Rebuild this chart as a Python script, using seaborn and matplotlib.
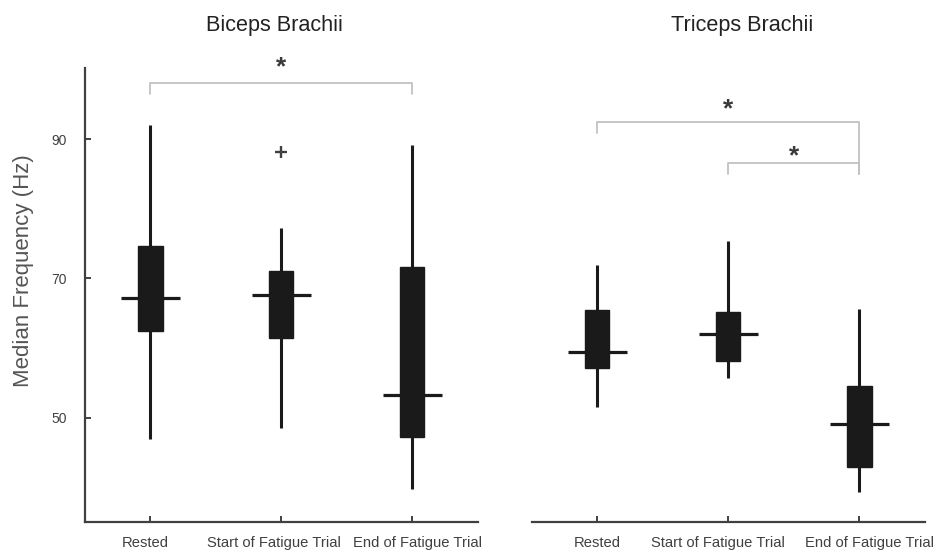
import matplotlib
matplotlib.use("Agg")
import matplotlib.pyplot as plt
import matplotlib.transforms as mtransforms
import seaborn as sns
import pandas as pd

# Conditions shown on each panel's x axis
conditions = ["Rested", "Start of Fatigue Trial", "End of Fatigue Trial"]

# Biceps brachii median frequency summaries (Hz)
biceps_whislo = [46.9, 48.5, 39.8]
biceps_q1 = [62.5, 61.4, 47.3]
biceps_med = [67.2, 67.6, 53.3]
biceps_q3 = [74.7, 71.1, 71.7]
biceps_whishi = [92.0, 77.3, 89.1]
biceps_outlier_cond = ["Start of Fatigue Trial"]
biceps_outlier_val = [88.2]

# Triceps brachii median frequency summaries (Hz)
triceps_whislo = [51.5, 55.7, 39.3]
triceps_q1 = [57.1, 58.1, 42.9]
triceps_med = [59.4, 62.0, 49.1]
triceps_q3 = [65.4, 65.2, 54.6]
triceps_whishi = [71.9, 75.3, 65.6]

# Significance brackets: (from, to, bar height, left drop, right drop, star height)
biceps_sig = [(0, 2, 98.0, 96.4, 96.4, 100.35)]
triceps_sig = [(0, 2, 92.5, 90.8, 85.0, 94.3),
               (1, 2, 86.56, 85.0, 85.0, 87.5)]

yticks = [50, 70, 90]
ylim = (35.0, 100.2)

sns.set_theme(style="ticks")
plt.rcParams["font.family"] = ["Liberation Sans", "DejaVu Sans"]

INK = "#1a1a1a"
AXIS = "#404040"
BRACKET = "#c2c2c2"

fig = plt.figure(figsize=(9.35, 5.52), dpi=100)
fig.patch.set_facecolor("white")
ax_l = fig.add_axes([85 / 935, 29.7 / 552, 392.7 / 935, 454.3 / 552])
ax_r = fig.add_axes([531.7 / 935, 29.7 / 552, 393.3 / 935, 454.3 / 552])


def draw_panel(ax, whislo, q1, med, q3, whishi, label_shift_pt):
    stats = []
    for i, name in enumerate(conditions):
        stats.append(dict(label=name, whislo=whislo[i], q1=q1[i], med=med[i],
                          q3=q3[i], whishi=whishi[i], fliers=[]))
    pos = list(range(len(conditions)))
    ax.bxp(stats, positions=pos, widths=0.185, patch_artist=True,
           showcaps=False, showfliers=False,
           boxprops=dict(facecolor=INK, edgecolor=INK, linewidth=1.0),
           whiskerprops=dict(color=INK, linewidth=2.2, solid_capstyle="butt"),
           medianprops=dict(color=INK, linewidth=0))
    # Median bars extend past the box on both sides
    ax.hlines(med, [p - 0.225 for p in pos], [p + 0.225 for p in pos],
              colors=INK, linewidth=2.3, zorder=4)
    ax.set_xlim(-0.5, 2.5)
    ax.set_ylim(*ylim)
    ax.set_xticks(pos)
    ax.set_xticklabels(conditions, fontsize=10.6, color=AXIS)
    ax.tick_params(axis="x", direction="in", length=4.5, width=1.4,
                   color=AXIS, pad=10)
    ax.set_xlabel("")
    # spread the long labels apart so neighbours do not touch
    for lab, dx in zip(ax.get_xticklabels(), label_shift_pt):
        offset = mtransforms.ScaledTranslation(dx / 72, 0, fig.dpi_scale_trans)
        lab.set_transform(lab.get_transform() + offset)


def draw_brackets(ax, sigs):
    for x0, x1, top, d0, d1, star_y in sigs:
        ax.plot([x0, x0, x1, x1], [d0, top, top, d1], color=BRACKET,
                linewidth=1.3, clip_on=False, zorder=1)
        ax.text((x0 + x1) / 2, star_y, "*", ha="center", va="center",
                fontsize=19, fontweight="bold", color="#3a3a3a",
                clip_on=False)


draw_panel(ax_l, biceps_whislo, biceps_q1, biceps_med, biceps_q3,
           biceps_whishi, [-3.6, -5.0, 3.6])
draw_panel(ax_r, triceps_whislo, triceps_q1, triceps_med, triceps_q3,
           triceps_whishi, [0.0, -7.2, 7.2])

outliers = pd.DataFrame({"condition": biceps_outlier_cond, "value": biceps_outlier_val})
outliers["pos"] = outliers["condition"].map({c: i for i, c in enumerate(conditions)})
sns.scatterplot(data=outliers, x="pos", y="value", ax=ax_l, marker="+",
                s=80, color=AXIS, linewidth=1.7, legend=False, zorder=5)
ax_l.set_xlabel("")
ax_l.set_ylabel("")

draw_brackets(ax_l, biceps_sig)
draw_brackets(ax_r, triceps_sig)

# Left panel keeps its y axis, right panel shares it visually
ax_l.set_yticks(yticks)
ax_l.set_yticklabels([str(v) for v in yticks], fontsize=10, color=AXIS)
ax_l.tick_params(axis="y", direction="in", length=4.5, width=1.4,
                 color=AXIS, pad=13)
sns.despine(ax=ax_l)
sns.despine(ax=ax_r, left=True)
ax_r.set_yticks([])

for ax in (ax_l, ax_r):
    for side in ("left", "bottom"):
        ax.spines[side].set_color(AXIS)
        ax.spines[side].set_linewidth(1.6)
    ax.set_facecolor("white")

ax_l.set_title("Biceps Brachii", fontsize=15.6, color="#222222",
               x=0.483, pad=26.4)
ax_r.set_title("Triceps Brachii", fontsize=15.6, color="#222222",
               x=0.536, pad=26.4)

fig.text(24 / 935, 1 - 271 / 552, "Median Frequency (Hz)", rotation=90,
         ha="center", va="center", fontsize=16, color="#555555")

fig.savefig("out.png", dpi=100, facecolor="white")
